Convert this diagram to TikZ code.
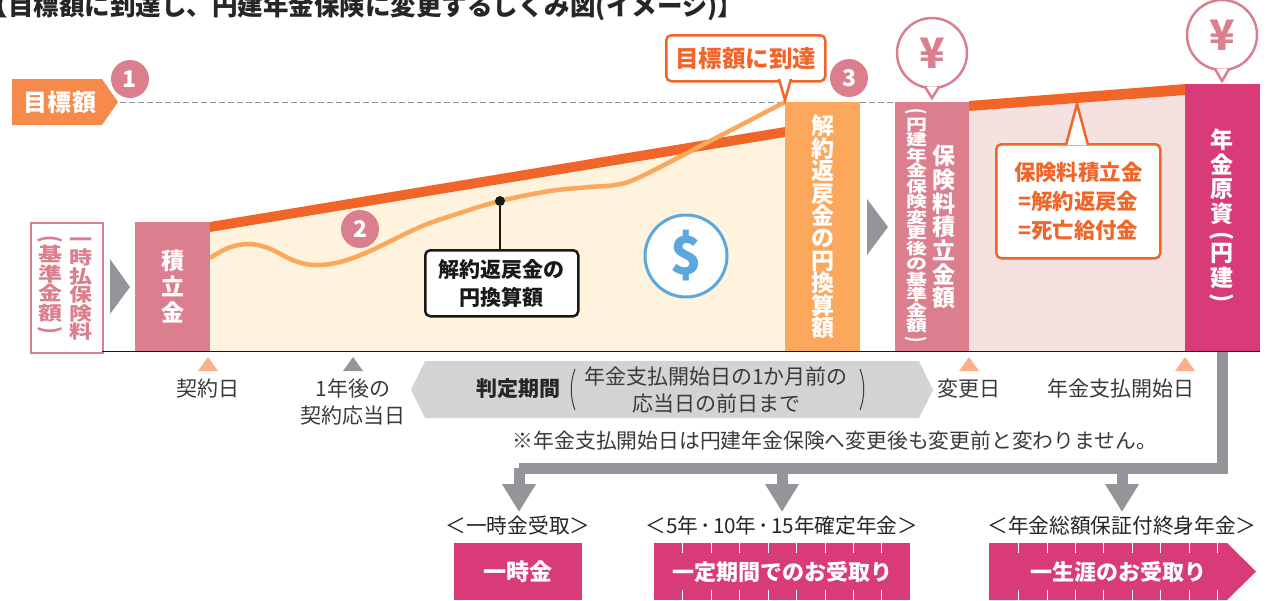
\documentclass[tikz,border=0pt]{standalone}
\usepackage{fontspec}
\setmainfont{Noto Sans CJK JP}
\usetikzlibrary{arrows.meta}
\definecolor{tagorange}{HTML}{F58A4B}
\definecolor{lineorange}{HTML}{F26529}
\definecolor{softorange}{HTML}{FBA75C}
\definecolor{peach}{HTML}{FBB08C}
\definecolor{rosepink}{HTML}{DB7F8E}
\definecolor{deeppink}{HTML}{D93B78}
\definecolor{creambg}{HTML}{FFF3DD}
\definecolor{pinkbg}{HTML}{F6E1E1}
\definecolor{arrowgray}{HTML}{939598}
\definecolor{bandgray}{HTML}{D1D3D4}
\definecolor{inkgray}{HTML}{3A3A3C}
\definecolor{dollarblue}{HTML}{5BA8DC}
\newlength\Px
\setlength\Px{0.5pt}
\newcommand{\vopen}{\rotatebox[origin=c]{-90}{(}}
\newcommand{\vclose}{\rotatebox[origin=c]{-90}{)}}
% upright column of characters, #1 squashes it
\newcommand{\tate}[2]{\scalebox{1}[#1]{\parbox{2em}{\centering\lineskiplimit=-\maxdimen #2}}}
\tikzstyle{bar} = [anchor=north west, inner sep=0pt, text=white, font=\bfseries\fontsize{11.5}{13}\selectfont]
\tikzstyle{badge} = [circle, fill=rosepink, inner sep=0pt, minimum size=38\Px, text=white, font=\bfseries\fontsize{11.5}{12}\selectfont]
\tikzstyle{vtext} = [inner sep=0pt]
\tikzstyle{datelabel} = [inner sep=0pt, align=center, text=inkgray, font=\fontsize{10.5}{13.25}\selectfont]
\tikzstyle{datemark} = [fill=peach, draw=none]
\tikzstyle{callout} = [draw=lineorange, fill=white, line width=2.5\Px, rounded corners=2.5pt, anchor=north west, inner sep=0pt, text=lineorange, align=center]
\tikzstyle{tailline} = [draw=lineorange, fill=white, line width=2.5\Px, line join=miter]
\tikzstyle{yenball} = [circle, draw=rosepink, fill=white, line width=2.5\Px, inner sep=0pt, minimum size=70\Px, text=rosepink, font=\bfseries\fontsize{21}{22}\selectfont]
\tikzstyle{yentail} = [draw=rosepink, fill=white, line width=2.5\Px]
\tikzstyle{branch} = [draw=arrowgray, line width=11\Px, -{Triangle[length=14pt, width=16pt]}]
\tikzstyle{plan} = [anchor=north west, fill=deeppink, inner sep=0pt, text=white, font=\bfseries\fontsize{11.5}{13}\selectfont]
\tikzstyle{planlabel} = [inner sep=0pt, text=black!85, font=\fontsize{10.35}{13}\selectfont]
\begin{document}
\begin{tikzpicture}[x=\Px,y=-\Px]
\useasboundingbox (0,0) rectangle (1273,600);
% heading
\node[anchor=base west, inner sep=0pt, text=black!85, font=\bfseries\fontsize{12.75}{14}\selectfont] (heading) at (-17.5,15.5) {【目標額に到達し、円建年金保険に変更するしくみ図(イメージ)】};

% backgrounds and rising lines
\fill[creambg] (210,232) -- (785,137) -- (785,351) -- (210,351) -- cycle;
\fill[pinkbg] (969,111) -- (1186,95) -- (1186,351) -- (969,351) -- cycle;
\fill[lineorange] (210,222) -- (785,127) -- (785,137) -- (210,232) -- cycle;
\fill[lineorange] (969,101) -- (1186,84) -- (1186,95) -- (969,111) -- cycle;
\draw[arrowgray, line width=1\Px, dash pattern=on 6\Px off 3\Px] (120,102) -- (785,102);
\draw[arrowgray, line width=1\Px, dash pattern=on 6\Px off 3\Px] (860,102) -- (895,102);
\draw[softorange, line width=4.5\Px] plot[smooth, tension=.6] coordinates {(210,258) (228,248) (248,244) (268,248) (295,261) (315,265) (340,262) (370,251) (420,227) (460,213) (500,201) (550,191) (590,187) (615,185) (640,177) (712,140) (785,102)};

% target tag
\fill[tagorange] (12,79) -- (102,79) -- (118,102) -- (102,125) -- (12,125) -- cycle;
\node[inner sep=0pt, text=white, font=\bfseries\fontsize{12}{13}\selectfont] (targetlabel) at (60,102) {目標額};
\node[badge] (one) at (130,79) {1};
\node[badge] (two) at (360,229) {2};
\node[badge] (three) at (849,78) {3};

% premium box
\node[draw=rosepink, line width=2.5\Px, anchor=north west, inner sep=0pt, minimum width=72\Px, minimum height=130\Px] (premium) at (29.5,221.5) {};
\node[vtext, text=rosepink, font=\bfseries\fontsize{11.5}{11.56}\selectfont] (premiumtext) at (81,289) {\tate{.8}{一\\時\\払\\保\\険\\料}};
\node[vtext, text=rosepink, font=\bfseries\fontsize{12}{12.2}\selectfont] (basetext) at (50,286) {\tate{.8}{\vopen\\[-2pt]基\\準\\金\\額\\[-2pt]\vclose}};
\fill[arrowgray] (110,259) -- (130,287) -- (110,314) -- cycle;

% bars
\node[bar, fill=rosepink, minimum width=75\Px, minimum height=129\Px] (reserve) at (135,222) {\tate{1}{積\\立\\金}};
\node[bar, fill=softorange, minimum width=75\Px, minimum height=249\Px, font=\bfseries\fontsize{11.5}{11.2}\selectfont] (surrender) at (785,102) {\tate{1}{解\\約\\返\\戻\\金\\の\\円\\換\\算\\額}};
\node[anchor=north west, fill=rosepink, inner sep=0pt, minimum width=74\Px, minimum height=249\Px] (changed) at (895,102) {};
\node[vtext, text=white, font=\bfseries\fontsize{11.5}{11.85}\selectfont] (changedtext) at (944,227) {\tate{1}{保\\険\\料\\積\\立\\金\\額}};
\node[vtext, text=white, font=\bfseries\fontsize{10.5}{10.47}\selectfont] (changedsub) at (916.5,227) {\tate{.74}{\vopen\\[-1.5pt]円\\建\\年\\金\\保\\険\\変\\更\\後\\の\\基\\準\\金\\額\\[-1.5pt]\vclose}};
\node[anchor=north west, fill=deeppink, inner sep=0pt, minimum width=75\Px, minimum height=267\Px] (principal) at (1185,84) {};
\node[vtext, text=white, font=\bfseries\fontsize{11.5}{12.3}\selectfont] (principaltext) at (1222,217) {\tate{1}{年\\金\\原\\資\\[-2pt]\vopen\\[-3pt]円\\建\\[-3pt]\vclose}};
\fill[arrowgray] (867,199) -- (888,227) -- (867,255) -- cycle;
\draw[black!90, line width=1.5\Px] (102,351.5) -- (1260,351.5);

% value callout
\node[anchor=north west, draw=black!90, fill=white, line width=2.5\Px, rounded corners=2.5pt, inner sep=0pt, minimum width=153\Px, minimum height=66\Px, align=center, text=black!90, font=\bfseries\fontsize{10.5}{14}\selectfont] (valuebox) at (424,249) {解約返戻金の\\円換算額};
\node[circle, fill=black!90, inner sep=0pt, minimum size=10\Px] (valuedot) at (500,201) {};
\draw[black!90, line width=1.5\Px] (valuedot) -- (valuebox.north -| valuedot);

\node[circle, draw=dollarblue, fill=white, line width=3\Px, inner sep=0pt, minimum size=82\Px, text=dollarblue, font=\bfseries\fontsize{26}{28}\selectfont] (dollar) at (686,256) {\$};

% reached callout
\node[callout, minimum width=159\Px, minimum height=46\Px, font=\bfseries\fontsize{11.75}{13}\selectfont] (reached) at (665,34) {目標額に到達};
\path[tailline] (779,79) -- (785,100) -- (791,79);

% reserve callout
\node[callout, minimum width=164\Px, minimum height=114\Px, font=\bfseries\fontsize{10.7}{14.3}\selectfont] (equal) at (995,143) {保険料積立金\\=解約返戻金\\=死亡給付金};
\path[tailline] (1066,145) -- (1077,104) -- (1088,145);

% yen balloons
\node[yenball] (yenone) at (932,53) {\raisebox{-1.5pt}{¥}};
\path[yentail] (925,87) -- (932,98) -- (939,87);
\node[yenball] (yentwo) at (1222,35) {\raisebox{-1.5pt}{¥}};
\path[yentail] (1215,69) -- (1222,81) -- (1229,69);

% date marks
\fill[datemark] (198,371) -- (208,357) -- (218,371) -- cycle;
\fill[arrowgray] (343,371) -- (353,357) -- (363,371) -- cycle;
\fill[datemark] (959,371) -- (969,357) -- (979,371) -- cycle;
\fill[datemark] (1175,371) -- (1185,357) -- (1195,371) -- cycle;
\node[datelabel] (contract) at (208,389) {契約日};
\node[datelabel] (anniversary) at (353,402) {1年後の\\契約応当日};
\node[datelabel] (changeday) at (969,389) {変更日};
\node[datelabel] (startday) at (1121,389) {年金支払開始日};

% judging band
\fill[bandgray] (411,390) -- (425,361) -- (919,361) -- (933,390) -- (919,418) -- (425,418) -- cycle;
\node[inner sep=0pt, text=black!85, font=\bfseries\fontsize{10.5}{13}\selectfont] (judge) at (518,389) {判定期間};
\node[datelabel] (judgeperiod) at (716,390) {年金支払開始日の1か月前の\\応当日の前日まで};
\draw[inkgray, line width=1\Px] (575,369) .. controls (570,382) and (570,397) .. (575,410);
\draw[inkgray, line width=1\Px] (860,369) .. controls (865,382) and (865,397) .. (860,410);
\node[datelabel, font=\fontsize{10.4}{13}\selectfont] (note) at (835,441) {※年金支払開始日は円建年金保険へ変更後も変更前と変わりません。};

% payout branches
\coordinate (trunkend) at (1222,468);
\coordinate (lumpjoin) at (519,468);
\coordinate (termjoin) at (782,468);
\coordinate (lifejoin) at (1122,468);
\node[planlabel] (lumplabel) at (518,526) {＜一時金受取＞};
\node[planlabel] (termlabel) at (782,526) {＜5年\kern1pt･\kern1pt10年\kern1pt･\kern1pt15年確定年金＞};
\node[planlabel] (lifelabel) at (1122,526) {＜年金総額保証付終身年金＞};
\draw[arrowgray, line width=11\Px] (principal.south -| trunkend) -- (trunkend) -- (lumpjoin);
\draw[branch] (lumpjoin) -- (519,512);
\draw[branch] (termjoin) -- (782,512);
\draw[branch] (lifejoin) -- (1122,512);

% plan boxes
\node[plan, minimum width=128\Px, minimum height=57\Px] (lump) at (454,543) {一時金};
\node[plan, minimum width=256\Px, minimum height=57\Px] (term) at (654,543) {};
\fill[deeppink] (989,543) -- (1227,543) -- (1256,571.5) -- (1227,600) -- (989,600) -- cycle;
\foreach \tick in {682,711,739,768,796,825,853,881}{
    \draw[white, line width=1\Px] (\tick,543) -- (\tick,553) (\tick,590) -- (\tick,600);
}
\foreach \tick in {1018,1047,1075,1103,1132,1160,1189,1217}{
    \draw[white, line width=1\Px] (\tick,543) -- (\tick,553) (\tick,590) -- (\tick,600);
}
\node[inner sep=0pt, text=white, font=\bfseries\fontsize{11}{13}\selectfont] (termtext) at (782,572) {一定期間でのお受取り};
\node[inner sep=0pt, text=white, font=\bfseries\fontsize{11}{13}\selectfont] (lifetext) at (1118,572) {一生涯のお受取り};
\end{tikzpicture}
\end{document}
